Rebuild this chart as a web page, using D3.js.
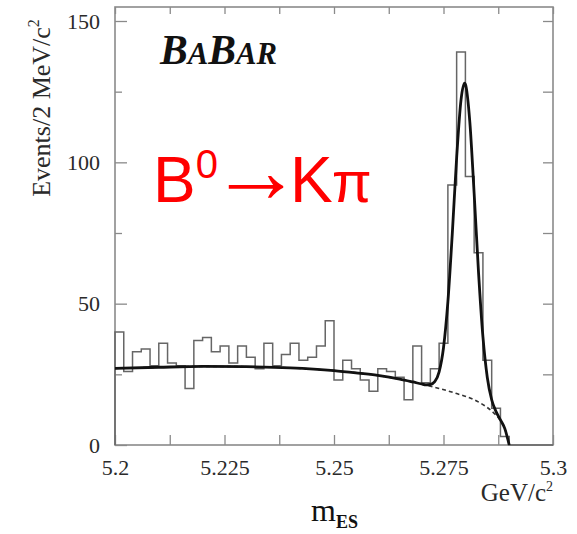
<!DOCTYPE html>
<html>
<head>
<meta charset="utf-8">
<script src="https://cdn.jsdelivr.net/npm/d3@7"></script>
<style>
  body { margin: 0; background: #fff; }
  svg { display: block; }
</style>
</head>
<body>
<svg id="chart" width="577" height="534"></svg>
<script>
// m_ES histogram: 2 MeV/c^2 bins starting at 5.200 GeV/c^2
const binStart = 5.2;
const binWidth = 0.002;
const counts = [
  40, 26, 33, 34, 28, 36, 29, 28, 20, 37,
  38, 33, 35, 29, 35, 31, 27, 36, 28, 32,
  36, 30, 31, 35, 44, 23, 30, 27, 23, 19,
  27, 26, 24, 16, 35, 22, 27, 36, 92, 139,
  95, 68, 30, 13, 3, 0, 0, 0, 0, 0
];

// total fit (signal + background)
const fitMass = [5.200, 5.210, 5.220, 5.230, 5.240, 5.250, 5.255, 5.260, 5.265, 5.268,
  5.270, 5.271, 5.272, 5.273, 5.274, 5.275, 5.276, 5.277, 5.278, 5.279,
  5.2798, 5.280, 5.281, 5.282, 5.283, 5.284, 5.285, 5.286, 5.287, 5.288, 5.289, 5.290];
const fitTotal = [27.1, 27.5, 27.8, 27.7, 27.3, 26.3, 25.5, 24.6, 23.3, 22.3,
  21.6, 21.3, 21.4, 22.4, 25.9, 34.4, 50.6, 74.6, 101.6, 122.1,
  128.0, 127.6, 114.5, 88.9, 61.0, 38.3, 23.9, 16.0, 11.8, 8.9, 5.8, 0];

// background component (dashed)
const bkgMass = [5.200, 5.210, 5.220, 5.230, 5.240, 5.250, 5.260, 5.265, 5.270, 5.274,
  5.278, 5.282, 5.284, 5.286, 5.288, 5.289, 5.290];
const bkgValues = [27.1, 27.5, 27.8, 27.7, 27.3, 26.3, 24.6, 23.3, 21.6, 20.0,
  18.2, 16.0, 14.3, 12.0, 8.6, 5.8, 0];

// axis ticks
const xMajorTicks = [5.2, 5.225, 5.25, 5.275, 5.3];
const xTickLabels = ["5.2", "5.225", "5.25", "5.275", "5.3"];
const xMinorTicks = [5.2125, 5.2375, 5.2625, 5.2875];
const yMajorTicks = [0, 50, 100, 150];
const yTickLabels = ["0", "50", "100", "150"];
const yMinorTicks = [25, 75, 125];

const svg = d3.select("#chart");
const plotLeft = 115, plotRight = 553, plotTop = 7, plotBottom = 445;

const x = d3.scaleLinear().domain([5.2, 5.3]).range([plotLeft, plotRight]);
const y = d3.scaleLinear().domain([0, 150]).range([plotBottom, 21]);

const frameColor = "#8a8a8a";
const textColor = "#2a2a2a";
const serif = "'Liberation Serif', 'Times New Roman', serif";

// ---- axes (ticks point inward) ----
function styleAxis(g) {
  g.select(".domain").remove();
  g.selectAll(".tick line").attr("stroke", frameColor).attr("stroke-width", 1.3);
  g.selectAll(".tick text")
    .attr("fill", textColor)
    .style("font-family", serif)
    .style("font-size", "22px");
}

const xLabelOf = d => {
  const i = xMajorTicks.indexOf(d);
  return i >= 0 ? xTickLabels[i] : "";
};

svg.append("g")
  .attr("transform", `translate(0,${plotBottom})`)
  .call(d3.axisBottom(x).tickValues(xMajorTicks.concat(xMinorTicks))
    .tickSizeInner(-10).tickSizeOuter(0).tickPadding(14).tickFormat(xLabelOf))
  .call(styleAxis);

svg.append("g")
  .attr("transform", `translate(0,${plotTop})`)
  .call(d3.axisTop(x).tickValues(xMajorTicks.concat(xMinorTicks))
    .tickSizeInner(-7).tickSizeOuter(0).tickFormat(""))
  .call(styleAxis);

const yLabelOf = d => {
  const i = yMajorTicks.indexOf(d);
  return i >= 0 ? yTickLabels[i] : "";
};

svg.append("g")
  .attr("transform", `translate(${plotLeft},0)`)
  .call(d3.axisLeft(y).tickValues(yMajorTicks)
    .tickSizeInner(-12).tickSizeOuter(0).tickPadding(15).tickFormat(yLabelOf))
  .call(styleAxis);

svg.append("g")
  .attr("transform", `translate(${plotLeft},0)`)
  .call(d3.axisLeft(y).tickValues(yMinorTicks)
    .tickSizeInner(-7).tickSizeOuter(0).tickFormat(""))
  .call(styleAxis);

svg.append("g")
  .attr("transform", `translate(${plotRight},0)`)
  .call(d3.axisRight(y).tickValues(yMajorTicks.concat(yMinorTicks).filter(d => d > 0))
    .tickSizeInner(-10).tickSizeOuter(0).tickFormat(""))
  .call(styleAxis);

// frame
svg.append("rect")
  .attr("x", plotLeft).attr("y", plotTop)
  .attr("width", plotRight - plotLeft).attr("height", plotBottom - plotTop)
  .attr("fill", "none").attr("stroke", frameColor).attr("stroke-width", 1.6);

// ---- histogram outline ----
const bins = counts.map((c, i) => ({
  x0: binStart + i * binWidth,
  x1: binStart + (i + 1) * binWidth,
  n: c
}));
const hist = d3.path();
hist.moveTo(x(bins[0].x0), y(0));
bins.forEach(b => {
  hist.lineTo(x(b.x0), y(b.n));
  hist.lineTo(x(b.x1), y(b.n));
});
hist.lineTo(x(bins[bins.length - 1].x1), y(0));
svg.append("path")
  .attr("d", hist.toString())
  .attr("fill", "none")
  .attr("stroke", "#666")
  .attr("stroke-width", 1.5)
  .attr("stroke-linejoin", "miter");

// ---- background component (dashed) ----
const bkgLine = d3.line()
  .x((d, i) => x(bkgMass[i]))
  .y(d => y(d))
  .curve(d3.curveMonotoneX);
svg.append("path")
  .attr("d", bkgLine(bkgValues))
  .attr("fill", "none")
  .attr("stroke", "#333")
  .attr("stroke-width", 1.6)
  .attr("stroke-dasharray", "4,3");

// ---- total fit ----
const fitLine = d3.line()
  .x((d, i) => x(fitMass[i]))
  .y(d => y(d))
  .curve(d3.curveMonotoneX);
svg.append("path")
  .attr("d", fitLine(fitTotal))
  .attr("fill", "none")
  .attr("stroke", "#111")
  .attr("stroke-width", 2.8)
  .attr("stroke-linejoin", "round");

// ---- experiment logo ----
const logo = svg.append("text")
  .attr("x", 160).attr("y", 64)
  .attr("fill", "#111")
  .attr("textLength", 117)
  .attr("lengthAdjust", "spacingAndGlyphs")
  .style("font-family", serif)
  .style("font-weight", "bold")
  .style("font-style", "italic");
logo.append("tspan").style("font-size", "42px").text("B");
logo.append("tspan").style("font-size", "31px").text("A");
logo.append("tspan").style("font-size", "42px").text("B");
logo.append("tspan").style("font-size", "31px").text("AR");

// ---- decay channel ----
const decay = svg.append("text")
  .attr("x", 153).attr("y", 202)
  .attr("fill", "#ff0000")
  .style("font-family", "'Liberation Sans', Arial, sans-serif")
  .style("font-size", "64px");
decay.append("tspan").text("B");
decay.append("tspan").attr("dy", -24).style("font-size", "40px").text("0");
decay.append("tspan").attr("dy", 24).attr("dx", -8)
  .style("font-size", "92px")
  .text("\u2192");
decay.append("tspan").attr("dx", -12).text("K");
decay.append("tspan").attr("dx", -1).style("font-size", "58px").text("\u03c0");

// ---- axis titles ----
const yTitle = svg.append("text")
  .attr("transform", "translate(50,108) rotate(-90)")
  .attr("text-anchor", "middle")
  .attr("fill", textColor)
  .style("font-family", serif)
  .style("font-size", "26px");
yTitle.append("tspan").text("Events/2 MeV/c");
yTitle.append("tspan").attr("dy", -11).style("font-size", "16px").text("2");

const xUnit = svg.append("text")
  .attr("x", 553).attr("y", 501)
  .attr("text-anchor", "end")
  .attr("fill", textColor)
  .style("font-family", serif)
  .style("font-size", "25px");
xUnit.append("tspan").text("GeV/c");
xUnit.append("tspan").attr("dy", -10).style("font-size", "14px").text("2");

const xTitle = svg.append("text")
  .attr("x", 311).attr("y", 521)
  .attr("fill", "#111")
  .style("font-family", serif);
xTitle.append("tspan").style("font-size", "32px").text("m");
xTitle.append("tspan").attr("dy", 7).style("font-size", "18px").style("font-weight", "bold").text("ES");
</script>
</body>
</html>
